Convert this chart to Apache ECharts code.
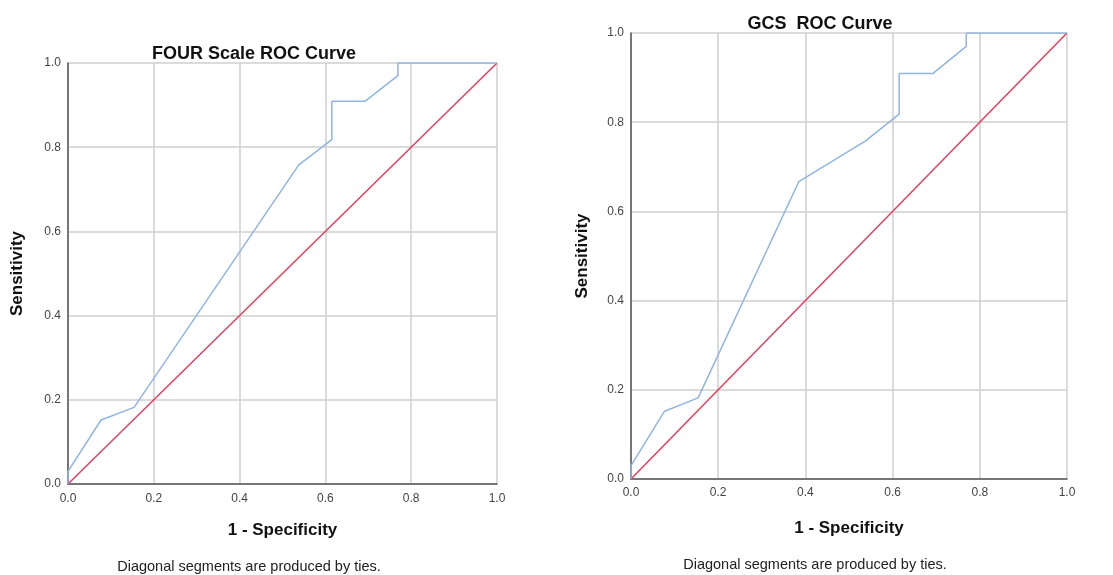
<!DOCTYPE html>
<html>
<head>
<meta charset="utf-8">
<script src="https://cdn.jsdelivr.net/npm/echarts@6/dist/echarts.min.js"></script>
<style>
  html, body { margin: 0; padding: 0; background: #fff; }
  #main { width: 1113px; height: 575px; }
</style>
</head>
<body>
<div id="main"></div>
<script>
// ROC points: [1 - specificity, sensitivity]
var fourRoc = [
  [0, 0], [0, 0.030], [0.077, 0.152], [0.154, 0.182], [0.538, 0.758],
  [0.615, 0.818], [0.615, 0.909], [0.692, 0.909], [0.769, 0.970],
  [0.769, 1], [1, 1]
];
var gcsRoc = [
  [0, 0], [0, 0.030], [0.077, 0.152], [0.154, 0.182], [0.385, 0.667],
  [0.538, 0.758], [0.615, 0.818], [0.615, 0.909], [0.692, 0.909],
  [0.769, 0.970], [0.769, 1], [1, 1]
];
var refLine = [[0, 0], [1, 1]];
var titles = ['FOUR Scale ROC Curve', 'GCS  ROC Curve'];
var xName = '1 - Specificity';
var yName = 'Sensitivity';
var footnote = 'Diagonal segments are produced by ties.';

var font = 'Arial, "Liberation Sans", sans-serif';
var blue = '#8fb5e3';
var red = '#e0405e';

var makeX = function(idx, gap, margin) {
  return {
    gridIndex: idx, type: 'value', min: 0, max: 1, interval: 0.2,
    name: xName, nameLocation: 'middle', nameGap: gap,
    nameTextStyle: { fontFamily: font, fontSize: 17, fontWeight: 'bold', color: '#111' },
    axisLine: { show: true, lineStyle: { color: '#555', width: 1.5 } },
    axisTick: { show: false },
    axisLabel: { fontFamily: font, fontSize: 12, color: '#444', margin: margin,
      formatter: function(v) { return v.toFixed(1); } },
    splitLine: { show: true, lineStyle: { color: '#cfcfcf', width: 1.5 } }
  };
};
var makeY = function(idx, gap) {
  return {
    gridIndex: idx, type: 'value', min: 0, max: 1, interval: 0.2,
    name: yName, nameLocation: 'middle', nameGap: gap,
    nameTextStyle: { fontFamily: font, fontSize: 17, fontWeight: 'bold', color: '#111' },
    axisLine: { show: true, lineStyle: { color: '#555', width: 1.5 } },
    axisTick: { show: false },
    axisLabel: { fontFamily: font, fontSize: 12, color: '#444', margin: 7,
      formatter: function(v) { return v.toFixed(1); } },
    splitLine: { show: true, lineStyle: { color: '#cfcfcf', width: 1.5 } }
  };
};
var makeLine = function(idx, data, color) {
  return {
    type: 'line', xAxisIndex: idx, yAxisIndex: idx, data: data,
    showSymbol: false, symbol: 'none', animation: false,
    lineStyle: { color: color, width: 1.5 }
  };
};

var myChart = echarts.init(document.getElementById('main'));

var option = {
  backgroundColor: '#fff',
  animation: false,
  title: [{
    text: titles[0], left: 249, top: 40, textAlign: 'center',
    textStyle: { fontFamily: font, fontSize: 18, fontWeight: 'bold', color: '#111' }
  }, {
    text: titles[1], left: 815, top: 10, textAlign: 'center',
    textStyle: { fontFamily: font, fontSize: 18, fontWeight: 'bold', color: '#111' }
  }],
  grid: [
    { left: 68, top: 63, width: 429, height: 421 },
    { left: 631, top: 33, width: 436, height: 446 }
  ],
  xAxis: [makeX(0, 38, 9), makeX(1, 41, 8)],
  yAxis: [makeY(0, 42), makeY(1, 40)],
  graphic: [{
    type: 'text', x: 249, y: 567,
    style: { text: footnote, fontFamily: font, fontSize: 14.5, fill: '#222',
      align: 'center', verticalAlign: 'middle' }
  }, {
    type: 'text', x: 815, y: 565,
    style: { text: footnote, fontFamily: font, fontSize: 14.5, fill: '#222',
      align: 'center', verticalAlign: 'middle' }
  }],
  series: [
    makeLine(0, refLine, red),
    makeLine(0, fourRoc, blue),
    makeLine(1, refLine, red),
    makeLine(1, gcsRoc, blue)
  ]
};

myChart.setOption(option);
</script>
</body>
</html>
